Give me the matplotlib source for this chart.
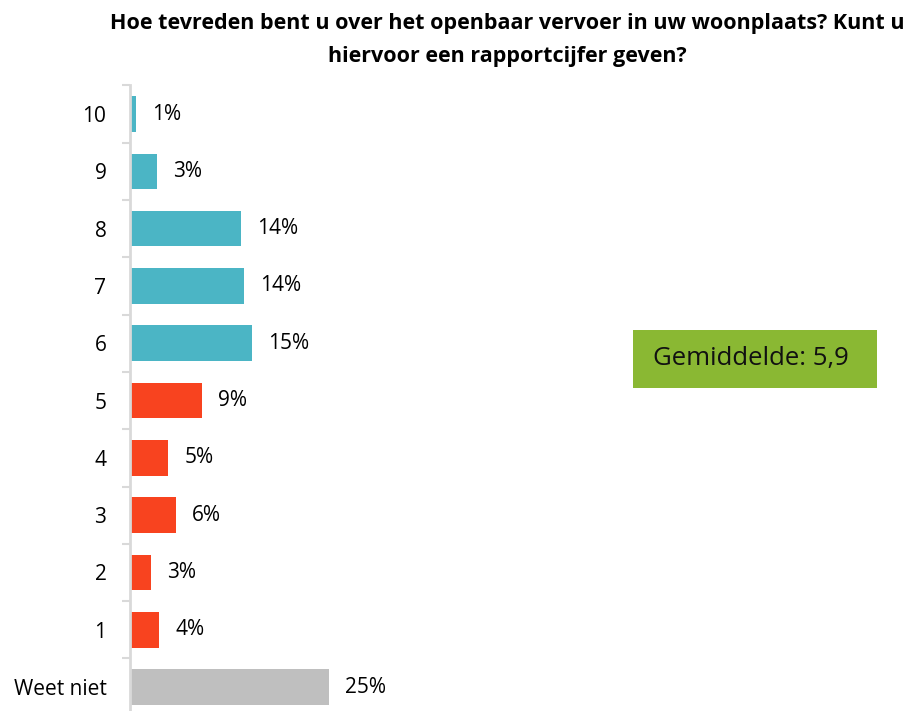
import matplotlib
matplotlib.use('Agg')
import matplotlib.pyplot as plt
from matplotlib.patches import Rectangle

# ---------- Data ----------
categories = ['10', '9', '8', '7', '6', '5', '4', '3', '2', '1', 'Weet niet']
values = [0.75, 3.35, 14.0, 14.3, 15.3, 9.05, 4.8, 5.8, 2.65, 3.65, 25.0]
labels = ['1%', '3%', '14%', '14%', '15%', '9%', '5%', '6%', '3%', '4%', '25%']
colors = ['#4BB5C5'] * 5 + ['#F8431F'] * 5 + ['#BFBFBF']

title = 'Hoe tevreden bent u over het openbaar vervoer in uw woonplaats? Kunt u\nhiervoor een rapportcijfer geven?'
mean_text = 'Gemiddelde: 5,9'

plt.rcParams['font.family'] = ['Open Sans', 'DejaVu Sans']

# ---------- Figure ----------
W, H = 909, 711
fig = plt.figure(figsize=(W / 100, H / 100), dpi=100)

# axes in pixel geometry: x=0 at 130px, top boundary at 85px, bottom off-figure
ax_left, ax_top, ax_bottom = 130, 85.4, 715.7
ax = fig.add_axes([ax_left / W, 1 - ax_bottom / H, 1 - ax_left / W, (ax_bottom - ax_top) / H])

n = len(categories)
y = list(range(n))
ax.barh(y, values, height=0.62, color=colors)
ax.set_ylim(n - 0.5, -0.5)
ax.set_xlim(0, (W - ax_left) / 7.96)

for yi, v, lab in zip(y, values, labels):
    ax.annotate(lab, (v, yi), xytext=(11.5, 0), textcoords='offset points',
                ha='left', va='center', fontsize=15, color='#000000')

ax.set_yticks(y)
ax.set_yticklabels(categories, fontsize=15)
ax.set_yticks([i - 0.5 for i in range(n + 1)], minor=True)
ax.tick_params(axis='y', which='major', length=0, pad=17)
ax.tick_params(axis='y', which='minor', length=6, width=1.5, color='#D9D9D9')
ax.set_xticks([])
for s in ['top', 'right', 'bottom']:
    ax.spines[s].set_visible(False)
ax.spines['left'].set_color('#D9D9D9')
ax.spines['left'].set_linewidth(2)

# ---------- Title ----------
fig.text(507 / W, 1 - 40 / H, title, ha='center', va='center',
         fontsize=15.5, fontweight='bold', linespacing=1.7)

# ---------- Mean box ----------
bx0, bx1, by0, by1 = 633, 877, 330, 388
fig.patches.append(Rectangle((bx0 / W, 1 - by1 / H), (bx1 - bx0) / W, (by1 - by0) / H,
                             transform=fig.transFigure, facecolor='#8AB833', edgecolor='none'))
fig.text(751 / W, 1 - 359 / H, mean_text,
         ha='center', va='center', fontsize=18.5, color='#111111')

fig.savefig('out.png', dpi=100)
